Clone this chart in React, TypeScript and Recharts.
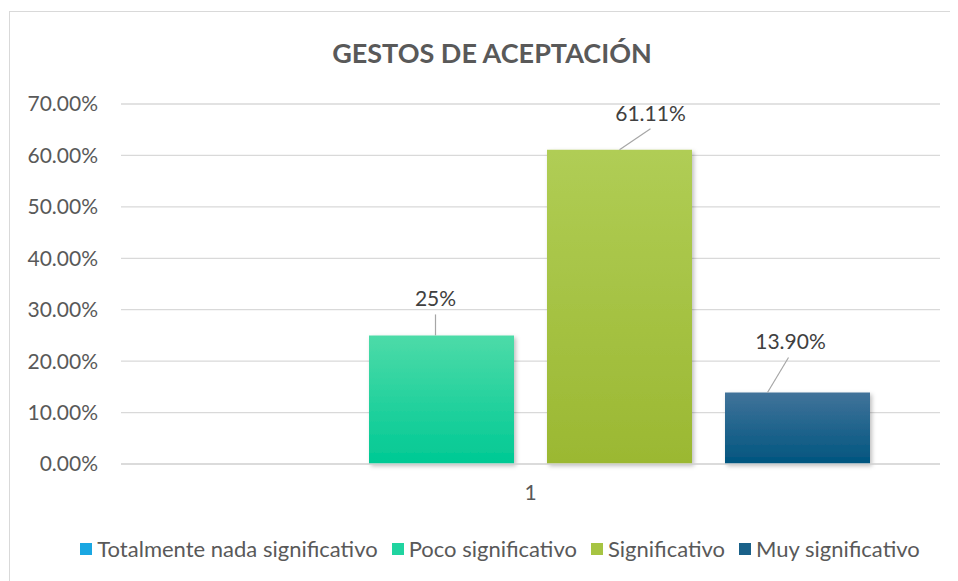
import {
  BarChart,
  Bar,
  XAxis,
  YAxis,
  CartesianGrid,
  Legend,
} from "recharts";

// one category, four series
const categories = ["1"];
const seriesNames = [
  "Totalmente nada significativo",
  "Poco significativo",
  "Significativo",
  "Muy significativo",
];
const seriesValues = [0, 0.25, 0.6111, 0.139];
const valueLabels = ["", "25%", "61.11%", "13.90%"];
const yTicks = [0, 0.1, 0.2, 0.3, 0.4, 0.5, 0.6, 0.7];

const keys = ["s0", "s1", "s2", "s3"];
const data = categories.map((c) => {
  const row: Record<string, string | number> = { cat: c };
  keys.forEach((k, i) => (row[k] = seriesValues[i]));
  return row;
});

const colors = [
  { top: "#2bb3ea", bottom: "#109fdc", legend: "#1aa7e2" },
  { top: "#4ddba8", bottom: "#00c994", legend: "#20d4a0" },
  { top: "#b0cd55", bottom: "#9bb832", legend: "#a6c442" },
  { top: "#41739a", bottom: "#00557f", legend: "#1a6189" },
];

// label offsets from the top-centre of each bar (text pos, leader line)
const labelStyle = [
  null,
  { tx: -6, ty: -38, x1: -6, y1: 0, x2: -6, y2: -21 },
  { tx: 31, ty: -37, x1: 0, y1: 0, x2: 31, y2: -21 },
  { tx: -7, ty: -52, x1: -30, y1: 0, x2: -9, y2: -35 },
];

const FONT = "Lato, 'Open Sans', sans-serif";
const GREY = "#595959";

function makeLabel(i: number) {
  return (props: any) => {
    const st = labelStyle[i];
    if (!st || !valueLabels[i]) return null;
    const cx = Number(props.x) + Number(props.width) / 2;
    const top = Number(props.y);
    return (
      <g>
        <line
          x1={cx + st.x1}
          y1={top + st.y1}
          x2={cx + st.x2}
          y2={top + st.y2}
          stroke="#a6a6a6"
          strokeWidth={1.2}
        />
        <text
          x={cx + st.tx}
          y={top + st.ty}
          textAnchor="middle"
          dominantBaseline="central"
          fill="#404040"
          fontSize={21}
          fontFamily={FONT}
        >
          {valueLabels[i]}
        </text>
      </g>
    );
  };
}

function LegendRow() {
  return (
    <div
      style={{
        display: "flex",
        justifyContent: "center",
        alignItems: "center",
        fontFamily: FONT,
        fontSize: 22,
        color: GREY,
        lineHeight: "24px",
      }}
    >
      {seriesNames.map((n, i) => (
        <span
          key={n}
          style={{ display: "flex", alignItems: "center", marginRight: i < 3 ? 14 : 0 }}
        >
          <span
            style={{
              width: 12,
              height: 12,
              background: colors[i].legend,
              marginRight: 5,
              display: "inline-block",
            }}
          />
          {n}
        </span>
      ))}
    </div>
  );
}

export default function App() {
  return (
    <div
      style={{
        position: "relative",
        width: 948,
        height: 572,
        marginTop: 3,
        marginLeft: 1,
        borderTop: "1px solid #d9d9d9",
        borderLeft: "1px solid #d9d9d9",
        background: "#fff",
      }}
    >
      <div
        style={{
          position: "absolute",
          left: 16,
          width: 932,
          top: 24,
          textAlign: "center",
          fontFamily: FONT,
          fontWeight: 700,
          fontSize: 27,
          color: GREY,
        }}
      >
        GESTOS DE ACEPTACIÓN
      </div>
      <BarChart
        width={948}
        height={570}
        data={data}
        margin={{ top: 92, right: 18, left: 0, bottom: 21 }}
        barGap={33}
        barSize={145}
      >
        <defs>
          {colors.map((c, i) => (
            <linearGradient key={i} id={`grad${i}`} x1="0" y1="0" x2="0" y2="1">
              <stop offset="0%" stopColor={c.top} />
              <stop offset="100%" stopColor={c.bottom} />
            </linearGradient>
          ))}
          <filter id="shadow" x="-10%" y="-10%" width="130%" height="130%">
            <feDropShadow dx={2} dy={2} stdDeviation={2} floodColor="#000" floodOpacity={0.25} />
          </filter>
        </defs>
        <CartesianGrid vertical={false} stroke="#d9d9d9" strokeWidth={1.3} />
        <XAxis
          dataKey="cat"
          height={73}
          tickLine={false}
          axisLine={{ stroke: "#d9d9d9", strokeWidth: 1.3 }}
          tickSize={0}
          tickMargin={21}
          tick={{ fill: GREY, fontSize: 21, fontFamily: FONT }}
        />
        <YAxis
          width={111}
          domain={[0, 0.7]}
          ticks={yTicks}
          tickFormatter={(v: number) => `${(v * 100).toFixed(2)}%`}
          axisLine={false}
          tickLine={false}
          tickSize={0}
          tickMargin={23}
          tick={{ fill: GREY, fontSize: 21, fontFamily: FONT }}
        />
        <Legend
          verticalAlign="bottom"
          content={<LegendRow />}
          wrapperStyle={{ left: 36, width: 908 }}
        />
        {keys.map((k, i) => (
          <Bar
            key={k}
            dataKey={k}
            name={seriesNames[i]}
            fill={`url(#grad${i})`}
            filter="url(#shadow)"
            isAnimationActive={false}
            label={makeLabel(i)}
          />
        ))}
      </BarChart>
    </div>
  );
}
